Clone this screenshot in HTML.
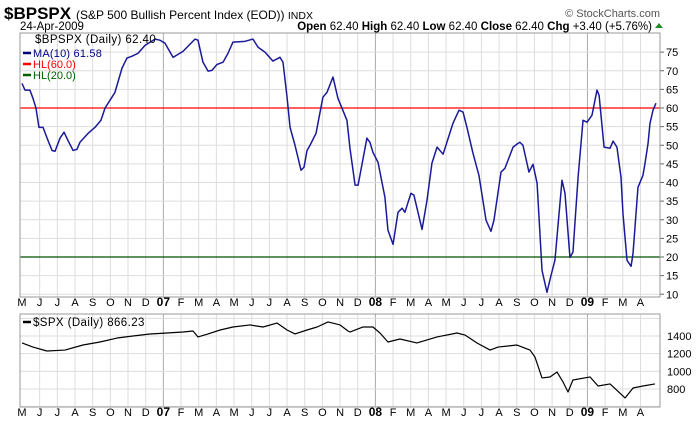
<!DOCTYPE html>
<html><head><meta charset="utf-8"><style>
body{margin:0;background:#fff;width:699px;height:425px;overflow:hidden;font-family:"Liberation Sans",Arial,sans-serif}
svg{display:block}
text{font-family:"Liberation Sans",Arial,sans-serif}
</style></head><body>
<svg id="c" width="699" height="425">
<text x="4" y="19" font-size="17" font-weight="bold">$BPSPX</text>
<text x="76" y="19" font-size="12">(S&amp;P 500 Bullish Percent Index (EOD)) <tspan font-size="10.5">INDX</tspan></text>
<text x="20" y="30" font-size="11.5">24-Apr-2009</text>
<text x="660" y="17" font-size="11" fill="#555" text-anchor="end">© StockCharts.com</text>
<text x="652" y="30" font-size="11.5" text-anchor="end"><tspan font-weight="bold">Open</tspan> 62.40  <tspan font-weight="bold">High</tspan> 62.40  <tspan font-weight="bold">Low</tspan> 62.40  <tspan font-weight="bold">Close</tspan> 62.40  <tspan font-weight="bold">Chg</tspan> +3.40 (+5.76%)</text>
<polygon points="655,28 663,28 659,23" fill="#2a8a2a"/>
<g id="grid"></g>
<g id="marks"></g>
<rect x="20" y="33" width="640" height="264" fill="none" stroke="#999"/>
<rect x="20" y="314" width="640" height="93" fill="none" stroke="#999"/>
<text x="35" y="43" font-size="11.5" letter-spacing="0.4">$BPSPX (Daily) 62.40</text>
<line x1="23" y1="53" x2="31" y2="53" stroke="#000080" stroke-width="2.5"/>
<text x="33" y="57" font-size="11" letter-spacing="0.2" fill="#000080">MA(10) 61.58</text>
<line x1="23" y1="64" x2="31" y2="64" stroke="#f00" stroke-width="2.5"/>
<text x="33" y="68" font-size="11" fill="#f00">HL(60.0)</text>
<line x1="23" y1="75" x2="31" y2="75" stroke="#006000" stroke-width="2.5"/>
<text x="33" y="79" font-size="11" fill="#006000">HL(20.0)</text>
<line x1="23" y1="322" x2="31" y2="322" stroke="#000" stroke-width="2.5"/>
<text x="33" y="326" font-size="11.5" letter-spacing="0.4">$SPX (Daily) 866.23</text>
</svg>
<script>
const monthLabels=["M","J","J","A","S","O","N","D","07","F","M","A","M","J","J","A","S","O","N","D","08","F","M","A","M","J","J","A","S","O","N","D","09","F","M","A"];
const bpTicks=[10,15,20,25,30,35,40,45,50,55,60,65,70,75];
const spxTicks=[800,1000,1200,1400];
const hlLevels=[60,20];
const bpT=[0,0.17,0.45,0.62,0.79,0.96,1.19,1.47,1.70,1.87,2.15,2.38,2.60,2.89,3.11,3.28,3.74,4.13,4.47,4.70,5.09,5.26,5.66,5.94,6.23,6.57,6.96,7.53,7.81,8.09,8.55,8.83,9.11,9.79,9.96,10.24,10.53,10.75,11.04,11.38,11.66,11.94,12.62,13.07,13.36,13.75,14.20,14.60,14.77,15.00,15.17,15.45,15.79,15.96,16.13,16.30,16.64,17.03,17.26,17.60,17.88,18.39,18.56,18.85,19.02,19.52,19.69,19.86,20.15,20.54,20.71,21.00,21.28,21.51,21.67,22.01,22.18,22.64,22.92,23.20,23.49,23.83,24.39,24.73,24.96,25.18,25.52,25.86,26.26,26.54,26.71,27.11,27.33,27.79,28.07,28.18,28.35,28.69,28.92,29.15,29.43,29.71,29.94,30.16,30.56,30.73,31.01,31.18,31.47,31.75,31.98,32.26,32.54,32.66,32.94,33.28,33.45,33.67,33.90,34.01,34.24,34.47,34.58,34.86,35.14,35.26,35.43,35.54,35.71,35.88];
const bpV=[66.6,64.8,64.8,62.6,60,54.8,54.8,51.3,48.6,48.4,51.9,53.5,51.3,48.6,48.9,50.8,53.2,54.8,56.7,60,62.9,64.2,70.7,73.4,73.9,74.7,76.8,78.5,78.2,77.4,73.6,74.4,75.2,78.5,78.2,72.3,69.9,70.1,71.7,72.3,74.7,77.7,77.9,78.5,76.3,75,72.6,73.6,72.3,62.9,54.8,50,43.3,44.1,48.6,50,53.2,62.9,64.2,68.3,62.6,56.7,49.2,39.3,39.3,51.9,50.8,48.1,45.4,36,27.2,23.4,32,33.1,32,37.1,36.6,27.4,35.2,45.2,49.5,47.6,55.9,59.4,58.9,54.8,47.9,41.9,29.9,26.9,29.9,42.8,43.8,49.5,50.5,50.8,50,42.8,44.9,39.8,16.4,10.5,15.1,19.1,40.6,37.1,19.9,21.3,41.4,56.7,56.2,58.1,64.8,63.4,49.5,49.2,51.1,49.5,41.4,31.7,19.1,17.5,21,38.7,41.9,45.2,50.5,55.9,59.4,61.3];
const spxT=[0,0.62,1.41,2.43,3.45,4.41,5.38,6.28,7.24,8.21,9.11,9.68,9.96,10.53,11.21,11.94,12.90,13.64,14.43,15.00,15.45,16.13,16.70,17.32,18.00,18.45,18.56,19.30,19.86,20.26,20.71,21.39,22.35,23.49,24.62,25.07,25.75,26.49,26.94,28.01,28.75,29.03,29.43,29.88,30.28,30.62,30.90,31.18,32.15,32.60,33.28,34.13,34.58,35.14,35.82];
const spxV=[1321,1275,1230,1241,1298,1332,1377,1400,1423,1434,1445,1457,1389,1423,1468,1502,1525,1502,1547,1468,1423,1468,1502,1559,1525,1457,1445,1502,1502,1434,1332,1366,1321,1389,1434,1411,1321,1241,1275,1298,1241,1162,925,936,992,879,766,902,936,834,857,698,811,834,857];

const NS="http://www.w3.org/2000/svg";
const X=t=>22+t*17.67;
const Y1=v=>108-(v-60)*3.725;
const Y2=v=>336-(v-1400)*0.0883;
const grid=document.getElementById('grid'),marks=document.getElementById('marks'),svg=document.getElementById('c');
function mk(tag,attrs,parent){const e=document.createElementNS(NS,tag);for(const k in attrs)e.setAttribute(k,attrs[k]);parent.appendChild(e);return e;}
monthLabels.forEach((m,i)=>{
  const x=X(i),yr=/\d/.test(m);
  if(i>0){
    const l1=mk('line',{x1:x,x2:x,y1:33,y2:297,stroke:yr?'#aaa':'#ddd'},grid);
    
    
    const l2=mk('line',{x1:x,x2:x,y1:314,y2:407,stroke:yr?'#aaa':'#ddd'},grid);
    
    
  }
  [306,416].forEach(y=>{
    const t=mk('text',{x:x,y:y,'font-size':yr?12:11,'font-weight':yr?'bold':'normal','text-anchor':'middle'},svg);
    t.textContent=m;
    
    
  });
});
bpTicks.forEach(v=>{
  const y=Y1(v);
  const l=mk('line',{x1:20,x2:660,y1:y,y2:y,stroke:'#ddd'},grid);
  
  
  mk('line',{x1:660,x2:664,y1:y,y2:y,stroke:'#666'},grid);
  const t=mk('text',{x:666,y:y+4,'font-size':11},svg);
  t.textContent=v;
  
  
});
[600,1600].concat(spxTicks).forEach(v=>{
  const y=Y2(v);if(y<314||y>407)return;
  const l=mk('line',{x1:20,x2:660,y1:y,y2:y,stroke:'#ddd'},grid);
  
  
});
spxTicks.forEach(v=>{
  const y=Y2(v);
  const t=mk('text',{x:667,y:y+4,'font-size':11},svg);
  t.textContent=v;
  
  
});
hlLevels.forEach((v,i)=>{
  const y=Y1(v);
  const l=mk('line',{x1:20,x2:660,y1:y,y2:y,stroke:i==0?'#f00':'#005000','stroke-width':1.2},marks);
  
  
});
const bp=mk('polyline',{points:bpT.map((t,i)=>X(t)+','+Y1(bpV[i])).join(' '),fill:'none',stroke:'#1a1a99','stroke-width':1.5,'stroke-linejoin':'round'},marks);


const sp=mk('polyline',{points:spxT.map((t,i)=>X(t)+','+Y2(spxV[i])).join(' '),fill:'none',stroke:'#000','stroke-width':1.2,'stroke-linejoin':'round'},marks);


</script>
</body></html>
